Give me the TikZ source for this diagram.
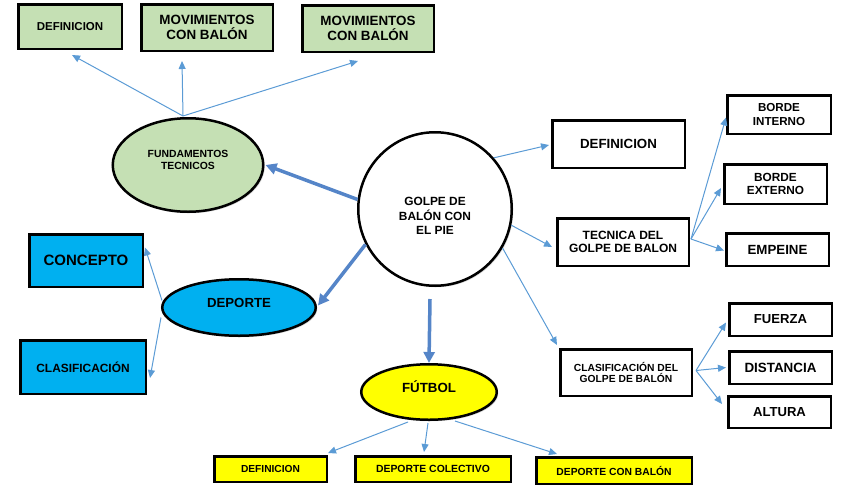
\documentclass[tikz,border=0pt]{standalone}
\usepackage{fontspec}
\setmainfont{Liberation Sans}
\usetikzlibrary{shapes.geometric,arrows.meta,calc,shadows}
\definecolor{gfill}{HTML}{C5E0B4}
\definecolor{bfill}{HTML}{00B0F0}
\definecolor{yfill}{HTML}{FFFF00}
\definecolor{arrc}{HTML}{5B9BD5}
\definecolor{thickc}{HTML}{5585C8}
\newcommand\myfs[2]{\fontsize{#1}{#2}\selectfont\bfseries}
\begin{document}
\begin{tikzpicture}[x=1pt,y=-1pt,
  shd/.style={drop shadow={shadow xshift=1.5pt,shadow yshift=-1.5pt,opacity=.3}},
  box/.style={draw=black,line width=2.5pt,rectangle,inner sep=0pt,align=center,text=black,shd},
  oval/.style={draw=black,line width=2.5pt,ellipse,inner sep=0pt,align=center,text=black,shd},
  thin/.style={draw=arrc,line width=1pt,-{Triangle[length=8pt,width=7pt]}},
  thick/.style={draw=thickc,line width=3.5pt,-{Triangle[length=11pt,width=11pt]}}]
\useasboundingbox (0,0) rectangle (845,490);

% green group
\node[box,fill=gfill,minimum width=103.5pt,minimum height=44.5pt,font=\myfs{11.5}{13.5}] (defg) at (70,26.5) {DEFINICION};
\node[box,fill=gfill,minimum width=131.5pt,minimum height=46.5pt,font=\myfs{13.4}{15.3}] (mov1) at (207,27.5) {MOVIMIENTOS\\CON BALÓN};
\node[box,fill=gfill,minimum width=131.5pt,minimum height=46.5pt,font=\myfs{13.4}{15.3}] (mov2) at (368,28.5) {MOVIMIENTOS\\CON BALÓN};
\node[oval,fill=gfill,minimum width=150.5pt,minimum height=93.5pt,font=\myfs{10.4}{11.7}] (fund) at (188,165) {FUNDAMENTOS\\TECNICOS\\[-1pt]};

% center
\node[draw=black,line width=2.5pt,circle,fill=white,minimum size=153.5pt,inner sep=0pt,shd,
  label={[font=\myfs{11.9}{14.5},align=center,text=black,yshift=-7pt]center:GOLPE DE\\BALÓN CON\\EL PIE}] (golpe) at (435,209) {};

% blue group
\node[oval,fill=bfill,minimum width=153.5pt,minimum height=56.5pt,font=\myfs{13.2}{15}] (deporte) at (239,307.5) {\smash{DEPORTE}};
\node[box,fill=bfill,minimum width=113.5pt,minimum height=52.5pt,font=\myfs{15}{17}] (concepto) at (86,260.5) {CONCEPTO};
\node[box,fill=bfill,minimum width=125.5pt,minimum height=53.5pt,font=\myfs{11.9}{14}] (clasif) at (83,367) {CLASIFICACIÓN};

% yellow group
\node[oval,fill=yfill,minimum width=135.5pt,minimum height=55.5pt,font=\myfs{13.3}{15}] (futbol) at (429,392) {\smash{FÚTBOL}};
\node[box,fill=yfill,minimum width=112.5pt,minimum height=25.5pt,font=\myfs{10.2}{12}] (defy) at (270.5,469) {DEFINICION};
\node[box,fill=yfill,minimum width=155.5pt,minimum height=25.5pt,font=\myfs{10.4}{12}] (colect) at (433,469) {DEPORTE COLECTIVO};
\node[box,fill=yfill,minimum width=155.5pt,minimum height=26.5pt,font=\myfs{10.3}{12}] (conbalon) at (614,470.5) {DEPORTE CON BALÓN};

% white group right
\node[box,fill=white,minimum width=132.5pt,minimum height=47.5pt,font=\myfs{13.3}{15}] (defw) at (618.5,144) {DEFINICION};
\node[box,fill=white,minimum width=131.5pt,minimum height=47.5pt,font=\myfs{12}{13.3}] (tecnica) at (623,242) {TECNICA DEL\\GOLPE DE BALON};
\node[box,fill=white,minimum width=131.5pt,minimum height=46.5pt,font=\myfs{10.3}{11.7}] (clasdg) at (626,372.5) {CLASIFICACIÓN DEL\\GOLPE DE BALÓN};
\node[box,fill=white,minimum width=103.5pt,minimum height=38.5pt,font=\myfs{11.6}{13.5}] (bint) at (779,114.5) {BORDE\\INTERNO};
\node[box,fill=white,minimum width=102.5pt,minimum height=39.5pt,font=\myfs{11.8}{13.5}] (bext) at (775.5,184) {BORDE\\EXTERNO};
\node[box,fill=white,minimum width=102.5pt,minimum height=32.5pt,font=\myfs{13.3}{15}] (empeine) at (777.5,249.5) {EMPEINE};
\node[box,fill=white,minimum width=102.5pt,minimum height=32.5pt,font=\myfs{13.1}{15}] (fuerza) at (780.5,319.5) {FUERZA};
\node[box,fill=white,minimum width=102.5pt,minimum height=32.5pt,font=\myfs{13.4}{15}] (distancia) at (780.5,367.5) {DISTANCIA};
\node[box,fill=white,minimum width=102.5pt,minimum height=31.5pt,font=\myfs{13.1}{15}] (altura) at (779.5,412) {ALTURA};

% coordinates
\coordinate (fundtop) at ($(fund.north)+(-5,-1)$);
\coordinate (tecR) at ($(tecnica.east)+(1,-3)$);
\coordinate (clasR) at ($(clasdg.east)+(3,-2)$);
\coordinate (depL1) at ($(deporte.west)+(1,-7)$);
\coordinate (depL2) at ($(deporte.west)+(0,10)$);
\coordinate (golpeB) at ($(golpe.south)+(-5,12)$);

% thin connectors
\draw[thin] (fundtop) -- ($(defg.south)+(2,5)$);
\draw[thin] (fundtop) -- ($(mov1.south)+(-25,9)$);
\draw[thin] (fundtop) -- ($(mov2.south)+(-10,8)$);

\draw[thin] (golpe.41) -- ($(defw.west)+(-2,1)$);
\draw[thin] (golpe.-12) -- ($(tecnica.west)+(-4,5)$);
\draw[thin] (golpe.-30) -- ($(clasdg.north west)+(-2,-3)$);

\draw[thin] (tecR) -- ($(bint.west)+(0,3)$);
\draw[thin] (tecR) -- ($(bext.west)+(-2,4)$);
\draw[thin] (tecR) -- ($(empeine.west)+(-1,1)$);

\draw[thin] (clasR) -- ($(fuerza.west)+(-2,3)$);
\draw[thin] (clasR) -- ($(distancia.west)+(-2,0)$);
\draw[thin] (clasR) -- ($(altura.west)+(-5,-8)$);

\draw[thin] (depL1) -- ($(concepto.east)+(1,-13)$);
\draw[thin] (depL2) -- ($(clasif.east)+(3,11)$);

\draw[thin] ($(futbol.south)+(-21,1)$) -- ($(defy.north east)+(0,-2)$);
\draw[thin] ($(futbol.south)+(-1,2)$) -- ($(colect.north)+(-9,-3)$);
\draw[thin] ($(futbol.south)+(26,0)$) -- ($(conbalon.north west)+(22,-2)$);

% thick connectors
\draw[thick] (golpe.173) -- ($(fund.east)+(1,0)$);
\draw[thick] (golpe.207) -- ($(deporte.east)+(1,-2)$);
\draw[thick] (golpeB) -- (futbol.north);
\end{tikzpicture}
\end{document}
